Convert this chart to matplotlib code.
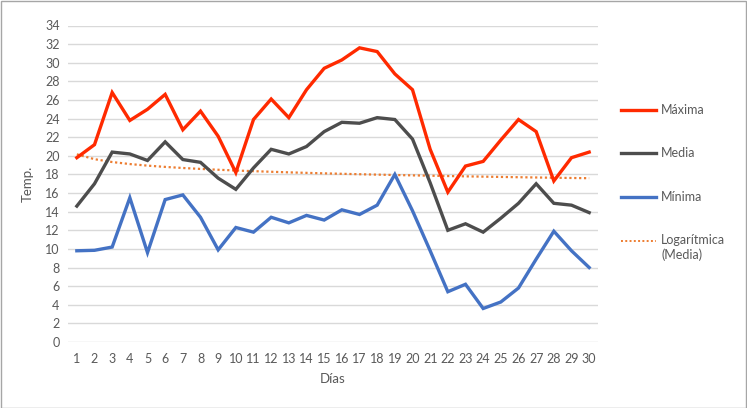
import numpy as np
import matplotlib
matplotlib.use("Agg")
import matplotlib.pyplot as plt
from matplotlib.lines import Line2D
from matplotlib.patches import Rectangle

plt.rcParams['font.family'] = ['Lato', 'DejaVu Sans']

days = list(range(1, 31))
maxima = [19.8, 21.2, 26.8, 23.8, 25.0, 26.6, 22.8, 24.8, 22.1, 18.2,
          23.9, 26.1, 24.1, 27.1, 29.4, 30.3, 31.6, 31.2, 28.8, 27.1,
          20.7, 16.1, 18.9, 19.4, 21.7, 23.9, 22.6, 17.3, 19.8, 20.4]
media = [14.6, 17.0, 20.4, 20.2, 19.5, 21.5, 19.6, 19.3, 17.6, 16.4,
         18.7, 20.7, 20.2, 21.0, 22.6, 23.6, 23.5, 24.1, 23.9, 21.8,
         17.1, 12.0, 12.7, 11.8, 13.3, 14.9, 17.0, 14.9, 14.7, 13.9]
minima = [9.8, 9.85, 10.2, 15.5, 9.6, 15.3, 15.8, 13.4, 9.9, 12.3,
          11.8, 13.4, 12.8, 13.6, 13.1, 14.2, 13.7, 14.7, 18.0, 14.1,
          9.8, 5.4, 6.2, 3.6, 4.3, 5.8, 8.9, 11.9, 9.8, 8.0]
y_ticks = list(range(0, 35, 2))

labels = ['Máxima', 'Media', 'Mínima', 'Logarítmica\n(Media)']
colors = ['#FF2A00', '#4D4D4D', '#4472C4', '#ED7D31']
text_color = '#595959'

# logarithmic trend of Media (least-squares fit, like Excel)
x = np.array(days, dtype=float)
a, b = np.polyfit(np.log(x), np.array(media), 1)
trend = a * np.log(x) + b

W, H = 747, 408
fig = plt.figure(figsize=(W / 100, H / 100), dpi=100)
ax = fig.add_axes([68 / W, 1 - 342 / H, (598 - 68) / W, (342 - 25.5) / H])

ax.plot(days, trend, color=colors[3], lw=1.6, linestyle=(0, (1, 1.2)), zorder=2)
ax.plot(days, maxima, color=colors[0], lw=2.4, solid_joinstyle='miter', zorder=3)
ax.plot(days, media, color=colors[1], lw=2.4, solid_joinstyle='miter', zorder=3)
ax.plot(days, minima, color=colors[2], lw=2.4, solid_joinstyle='miter', zorder=3)

ax.set_xlim(0.5, 30.5)
ax.set_ylim(0, 34)
ax.set_yticks(y_ticks)
ax.set_xticks(days)
ax.grid(axis='y', color='#D9D9D9', lw=1)
ax.set_axisbelow(True)
for s in ax.spines.values():
    s.set_visible(False)
ax.tick_params(length=0, labelsize=9, colors=text_color, pad=6)
ax.tick_params(axis='x', pad=8)
ax.set_xlabel('Días', fontsize=9.5, color=text_color, labelpad=6)
ax.set_ylabel('Temp.', fontsize=9.5, color=text_color, labelpad=8)

# legend on the right
ys = [110, 153, 197, 241]
styles = ['-', '-', '-', (0, (1, 1.2))]
lws = [2.4, 2.4, 2.4, 1.4]
for yy, lab, c, st, lw in zip(ys, labels, colors, styles, lws):
    fig.add_artist(Line2D([621 / W, 656 / W], [1 - yy / H, 1 - yy / H],
                          color=c, lw=lw, linestyle=st))
    fig.text(661 / W, 1 - yy / H, lab, fontsize=9, color=text_color,
             va='top' if '\n' in lab else 'center',
             transform=fig.transFigure) if False else None
    if '\n' in lab:
        fig.text(661 / W, 1 - (yy - 7.5) / H, lab, fontsize=9, color=text_color,
                 va='top', linespacing=1.25)
    else:
        fig.text(661 / W, 1 - yy / H, lab, fontsize=9, color=text_color, va='center')

fig.add_artist(Rectangle((0.5 / W, 0.5 / H), 1 - 1.5 / W, 1 - 1.5 / H,
                         transform=fig.transFigure, fill=False,
                         edgecolor='#A6A6A6', lw=1))

fig.savefig('out.png', dpi=100)
